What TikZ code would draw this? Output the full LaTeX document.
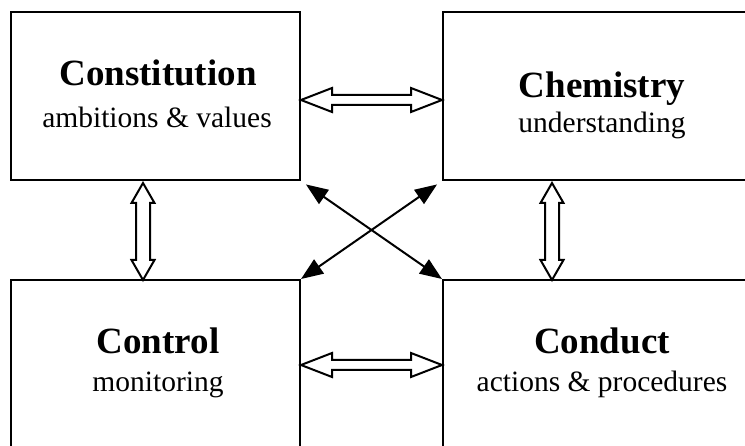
\documentclass[tikz,border=0pt]{standalone}
\usepackage{fontspec}
\setmainfont{Liberation Serif}
\usetikzlibrary{calc,arrows.meta}
\begin{document}
\begin{tikzpicture}[x=1pt,y=1pt,
  box/.style={draw,line width=2pt,minimum width=289pt,minimum height=168pt,inner sep=0pt},
  wbox/.style={box,minimum width=318pt},
  title/.style={anchor=base,inner sep=0pt,font=\fontsize{37}{40}\selectfont\bfseries},
  sub/.style={anchor=base,inner sep=0pt,font=\fontsize{29.5}{32}\selectfont},
  fat/.style={draw,line width=2pt,fill=white,line join=miter},
  link/.style={line width=2pt,{Triangle[length=22pt,width=17pt]}-{Triangle[length=22pt,width=17pt]}}]
\useasboundingbox (0,0) rectangle (745,445);

% the four boxes
\node[box] (constitution) at (155.5,349) {};
\node[wbox] (chemistry) at (602,349) {};
\node[box] (control) at (155.5,81) {};
\node[wbox] (conduct) at (602,81) {};

\node[title] (t1) at (158,359) {Constitution};
\node[sub] (s1) at (157,317) {ambitions \& values};
\node[title] (t2) at (602,347) {Chemistry};
\node[sub] (s2) at (602,312) {understanding};
\node[title] (t3) at (158,92) {Control};
\node[sub] (s3) at (158,54) {monitoring};
\node[title] (t4) at (602,92) {Conduct};
\node[sub] (s4) at (602,53) {actions \& procedures};

% hollow double arrows
\coordinate (ha) at ([yshift=-4pt]constitution.east);
\coordinate (hb) at ([yshift=-4pt]chemistry.west);
\draw[fat] (ha) -- ++(31,12) -- ++(0,-7) -- ($(hb)+(-31,5)$) -- ++(0,7) -- (hb)
  -- ++(-31,-12) -- ++(0,7) -- ($(ha)+(31,-5)$) -- ++(0,-7) -- cycle;

\coordinate (hc) at ([yshift=-1pt]control.east);
\coordinate (hd) at ([yshift=-1pt]conduct.west);
\draw[fat] (hc) -- ++(31,12) -- ++(0,-7) -- ($(hd)+(-31,5)$) -- ++(0,7) -- (hd)
  -- ++(-31,-12) -- ++(0,7) -- ($(hc)+(31,-5)$) -- ++(0,-7) -- cycle;

\coordinate (va) at (143,262);
\coordinate (vb) at (143,165);
\draw[fat] (va) -- ++(11.5,-20) -- ++(-4.5,0) -- ($(vb)+(7,20)$) -- ++(4.5,0) -- (vb)
  -- ++(-11.5,20) -- ++(4.5,0) -- ($(va)+(-7,-20)$) -- ++(-4.5,0) -- cycle;

\coordinate (vc) at (552,262);
\coordinate (vd) at (552,165);
\draw[fat] (vc) -- ++(11.5,-20) -- ++(-4.5,0) -- ($(vd)+(7,20)$) -- ++(4.5,0) -- (vd)
  -- ++(-11.5,20) -- ++(4.5,0) -- ($(vc)+(-7,-20)$) -- ++(-4.5,0) -- cycle;

% crossing arrows
\draw[link,shorten <=6pt] (constitution.south east) -- (conduct.north west);
\draw[link,shorten <=6pt] (chemistry.south west) -- (control.north east);
\end{tikzpicture}
\end{document}
